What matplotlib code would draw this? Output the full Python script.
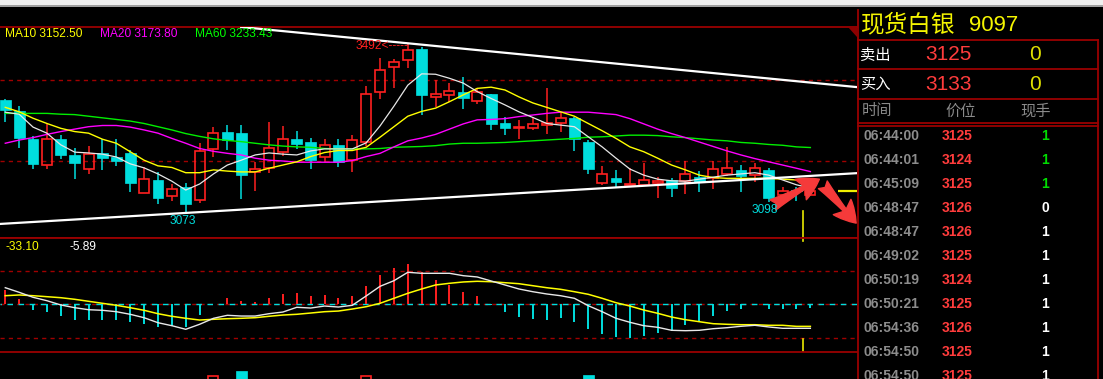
import matplotlib
matplotlib.use('Agg')
import matplotlib.pyplot as plt
from matplotlib.patches import Rectangle, Polygon
from matplotlib.lines import Line2D
import numpy as np

W, H, DPI = 1103, 379, 100

# ---------------- data ----------------
opens = [3351, 3324, 3255, 3190, 3255, 3215, 3180, 3220, 3210, 3220,
         3121, 3153, 3113, 3136, 3103, 3230, 3272, 3269, 3173, 3183,
         3222, 3255, 3247, 3210, 3240, 3202, 3247, 3371, 3433, 3450,
         3478, 3359, 3364, 3371, 3349, 3366, 3294, 3282, 3282, 3289,
         3294, 3307, 3247, 3145, 3158, 3141, 3141, 3145, 3153, 3150,
         3160, 3158, 3168, 3178, 3165, 3178, 3115, 3128, 3115]
highs = [3353, 3336, 3262, 3292, 3264, 3232, 3237, 3255, 3255, 3227,
         3185, 3173, 3143, 3145, 3245, 3284, 3289, 3289, 3198, 3297,
         3287, 3274, 3257, 3255, 3255, 3264, 3386, 3455, 3453, 3492,
         3482, 3401, 3393, 3408, 3381, 3366, 3309, 3302, 3309, 3381,
         3319, 3309, 3252, 3188, 3178, 3183, 3195, 3160, 3158, 3200,
         3175, 3200, 3235, 3190, 3195, 3182, 3136, 3135, 3123]
lows = [3297, 3232, 3180, 3180, 3205, 3155, 3168, 3178, 3188, 3123,
        3121, 3093, 3101, 3073, 3096, 3210, 3227, 3106, 3126, 3170,
        3212, 3230, 3180, 3198, 3185, 3173, 3237, 3354, 3381, 3430,
        3314, 3334, 3346, 3329, 3341, 3277, 3264, 3255, 3277, 3267,
        3272, 3225, 3168, 3141, 3136, 3141, 3138, 3108, 3111, 3118,
        3123, 3131, 3163, 3123, 3148, 3098, 3115, 3101, 3115]
closes = [3326, 3257, 3193, 3255, 3215, 3195, 3217, 3207, 3200, 3145,
          3155, 3108, 3131, 3093, 3225, 3269, 3252, 3165, 3180, 3232,
          3255, 3242, 3202, 3240, 3198, 3252, 3366, 3425, 3445, 3475,
          3364, 3366, 3373, 3356, 3371, 3292, 3282, 3284, 3292, 3294,
          3307, 3255, 3180, 3168, 3148, 3143, 3153, 3150, 3133, 3168,
          3148, 3180, 3183, 3163, 3183, 3109, 3126, 3125, 3125]

ma5 = [3321, 3316, 3284, 3269, 3240, 3222, 3220, 3217, 3210, 3193,
       3183, 3168, 3150, 3128, 3143, 3168, 3190, 3202, 3215, 3220,
       3217, 3215, 3225, 3230, 3230, 3230, 3245, 3287, 3336, 3388,
       3416, 3415, 3405, 3393, 3372, 3355, 3339, 3322, 3308, 3293,
       3289, 3285, 3260, 3235, 3207, 3180, 3165, 3155, 3151, 3150,
       3155, 3160, 3165, 3168, 3171, 3165, 3153, 3141, 3133]
ma10 = [3333, 3322, 3306, 3293, 3281, 3273, 3269, 3254, 3244, 3223,
        3202, 3188, 3184, 3171, 3171, 3178, 3175, 3173, 3173, 3182,
        3190, 3198, 3211, 3221, 3226, 3226, 3234, 3259, 3285, 3311,
        3323, 3331, 3347, 3364, 3380, 3383, 3376, 3359, 3344, 3333,
        3322, 3311, 3293, 3275, 3256, 3235, 3223, 3207, 3190, 3178,
        3165, 3159, 3157, 3157, 3157, 3157, 3155, 3153, 3152.5]
ma20 = [3244, 3252, 3258, 3266, 3273, 3279, 3285, 3288, 3288, 3284,
        3277, 3269, 3256, 3244, 3231, 3224, 3219, 3215, 3207, 3202,
        3200, 3197, 3197, 3197, 3197, 3201, 3211, 3219, 3235, 3250,
        3257, 3266, 3279, 3292, 3302, 3303, 3305, 3310, 3314, 3318,
        3321, 3321, 3321, 3318, 3315, 3305, 3292, 3279, 3268, 3258,
        3247, 3236, 3225, 3215, 3206, 3198, 3190, 3182, 3173.8]
ma60 = [3318, 3318, 3318, 3318, 3316, 3315, 3311, 3307, 3303, 3299,
        3293, 3285, 3277, 3268, 3261, 3255, 3251, 3248, 3244, 3240,
        3237, 3235, 3234, 3231, 3230, 3230, 3230, 3231, 3234, 3235,
        3236, 3238, 3242, 3244, 3244, 3245, 3246, 3248, 3250, 3252,
        3254, 3256, 3259, 3260, 3262, 3264, 3264, 3263, 3260, 3258,
        3255, 3252, 3250, 3246, 3244, 3241, 3239, 3235, 3233.4]

dif = [24.9, 18, 10.5, 5.4, -1, -5.1, -8.1, -9, -11.1, -15,
       -20.1, -27.6, -32.1, -37.5, -30, -21, -16.5, -17.6, -17.6, -14.1,
       -11.6, -4.5, -5.6, -2.6, -4.1, -1.5, 12.5, 27, 35.4, 48,
       46.5, 46.5, 46.5, 42.9, 41, 35, 29, 23, 18.9, 15.5,
       12.9, 9, -2.1, -11.1, -21, -27, -32.1, -34.5, -39, -39.6,
       -39, -36.6, -35.1, -33, -31.5, -34, -36, -36, -36]
dea = [12.9, 14, 12.9, 11.4, 9.9, 7.5, 4.5, 1.5, -1.5, -5.1,
       -9, -14.1, -18, -21, -23.6, -22.5, -21.6, -21, -20.1, -18,
       -16.1, -15, -13.1, -11.1, -10.1, -7.1, -3.6, 1.5, 9, 16.5,
       23, 29, 31.5, 33.5, 34.5, 33.9, 32.4, 30.9, 27.9, 24.9,
       22.5, 18.9, 15, 9, 2.4, -2.6, -8.6, -13.5, -19.1, -23.1,
       -26.1, -29.1, -30, -30.6, -30.6, -31.5, -31.5, -33.1, -33.1]
macd_hist = [21.5, 8, -8.5, -11, -17.5, -23.5, -23.5, -23.5, -23.5, -27,
             -29, -33.5, -32, -33.5, -16, 0, 10, 5.5, 3.5, 10,
             15.5, 17.5, 12.5, 14, 10, 12.5, 27.5, 44, 55, 60.5,
             49, 36.5, 29, 18.5, 12.5, -1, -11, -18.5, -21.5, -23,
             -20, -26, -36.5, -44, -48.5, -50, -47, -42.5, -39.5, -30.5,
             -25.5, -17, -9.5, -6.5, -1, -6.5, -6.5, -6.5, -5.9]

vol_idx = [15, 17, 26, 42]
vol_val = [1030, 1080, 1030, 1040]

trend_upper_x, trend_upper_y = [17.0, 61.4], [3532, 3383]
trend_lower_x, trend_lower_y = [-0.4, 61.4], [3044, 3170]
price_grid = [3200, 3400]
macd_grid = [50, -50]
last_price = 3125

ma_labels = ['MA10 3152.50', 'MA20 3173.80', 'MA60 3233.43']
macd_labels = ['-33.10', '-5.89']

title_name, title_code = '现货白银', '9097'
sell_row = ('卖出', '3125', '0')
buy_row = ('买入', '3133', '0')
headers = ['时间', '价位', '现手']
tick_times = ['06:44:00', '06:44:01', '06:45:09', '06:48:47', '06:48:47', '06:49:02',
              '06:50:19', '06:50:21', '06:54:36', '06:54:50', '06:54:50']
tick_prices = ['3125', '3124', '3125', '3126', '3126', '3125',
               '3124', '3125', '3126', '3125', '3125']
tick_vols = ['1', '1', '1', '0', '1', '1', '1', '1', '1', '1', '1']

# ---------------- colours ----------------
RED = '#ff2020'
CYAN = '#00dede'
BORDER = '#9a0000'
GRID = '#a00000'
SANS = ['Liberation Sans', 'DejaVu Sans']
CJK = ['Noto Sans CJK SC', 'DejaVu Sans']
LBL = 8.6

fig = plt.figure(figsize=(W / DPI, H / DPI), dpi=DPI, facecolor='black')


def frect(x0, y0, x1, y1):
    return [x0 / W, 1 - y1 / H, (x1 - x0) / W, (y1 - y0) / H]


def fx(x):
    return x / W


def fy(y):
    return 1 - y / H


XLIM = (-0.38, 61.36)

# ---------------- main price panel ----------------
ax = fig.add_axes(frect(0, 27, 857, 238))
ax.set_facecolor('black')
ax.set_xlim(*XLIM)
ax.set_ylim(3009.2, 3532.1)
ax.set_xticks([])
ax.set_yticks([])
for s in ['left', 'right']:
    ax.spines[s].set_visible(False)
for s in ['top', 'bottom']:
    ax.spines[s].set_color(BORDER)
    ax.spines[s].set_linewidth(1.3)

for gp in price_grid:
    ax.axhline(gp, color=GRID, lw=1.0, ls=(0, (3, 3)))

x = np.arange(len(opens))
for i, (o, h, l, c) in enumerate(zip(opens, highs, lows, closes)):
    if c >= o:
        top, bot = c, o
        ax.vlines(i, top, h, color=RED, lw=1.1, zorder=3)
        ax.vlines(i, l, bot, color=RED, lw=1.1, zorder=3)
        ax.add_patch(Rectangle((i - 0.36, bot), 0.72, max(top - bot, 0.6),
                               fill=False, ec=RED, lw=1.2, zorder=3))
    else:
        ax.vlines(i, l, h, color=CYAN, lw=1.1, zorder=3)
        ax.add_patch(Rectangle((i - 0.39, c), 0.78, o - c, fc=CYAN, ec=CYAN,
                               lw=0.5, zorder=3))

ax.plot(x, ma60, color='#00ee00', lw=1.0, zorder=4)
ax.plot(x, ma20, color='#ff00ff', lw=1.0, zorder=4)
ax.plot(x, ma10, color='#ffff00', lw=1.0, zorder=4)
ax.plot(x, ma5, color='#e8e8e8', lw=0.9, zorder=4)

ax.plot(trend_upper_x, trend_upper_y, color='white', lw=1.6, zorder=5)
ax.plot(trend_lower_x, trend_lower_y, color='white', lw=1.6, zorder=5)

ax.hlines(last_price, 60.0, XLIM[1], color='#f0f000', lw=1.6, zorder=5)
ax.axvline(57.47, ymin=0, ymax=0.128, color='#e8e800', lw=1.2)

# extreme labels
ax.annotate('3073', xy=(13, min(lows)), xytext=(-3, -9), textcoords='offset pixels',
            ha='center', va='center', color=CYAN, fontsize=LBL, family=SANS, zorder=7)
ax.annotate('3098', xy=(55, lows[55]), xytext=(-4, -8), textcoords='offset pixels',
            ha='center', va='center', color=CYAN, fontsize=LBL, family=SANS, zorder=7)
ax.annotate('3492<-----', xy=(29, max(highs)), xytext=(1, -3), textcoords='offset pixels',
            ha='right', va='center', color=RED, fontsize=LBL, family=SANS, zorder=7)

# arrows (annotation)
arrow_kw = dict(arrowstyle='fancy,head_length=1.1,head_width=1.2,tail_width=0.6',
                color='#f53a3a', mutation_scale=14, shrinkA=0, shrinkB=0)
ax.annotate('', xy=(58.65, 3155), xytext=(55.3, 3091), arrowprops=arrow_kw,
            annotation_clip=False, zorder=6)
ax.annotate('', xy=(61.3, 3046), xytext=(58.9, 3141), arrowprops=arrow_kw,
            annotation_clip=False, zorder=6)

# MA labels
for lbl, col, px in zip(ma_labels, ['#ffff00', '#ff00ff', '#00ff00'], [5, 100, 195]):
    fig.text(fx(px), fy(34), lbl, color=col, fontsize=LBL, family=SANS,
             ha='left', va='center')

# ---------------- MACD panel ----------------
ax2 = fig.add_axes(frect(0, 238, 857, 352))
ax2.set_facecolor('black')
ax2.set_xlim(*XLIM)
ax2.set_ylim(-71.55, 99.45)
ax2.set_xticks([])
ax2.set_yticks([])
for s in ['left', 'right']:
    ax2.spines[s].set_visible(False)
for s in ['top', 'bottom']:
    ax2.spines[s].set_color(BORDER)
    ax2.spines[s].set_linewidth(1.3)
for g in macd_grid:
    ax2.axhline(g, color=GRID, lw=1.0, ls=(0, (3, 3)))
ax2.axhline(0, color=GRID, lw=1.0, ls=(0, (3, 3)))
ax2.axhline(0, color=CYAN, lw=1.0, ls=(3, (4, 4)))
hist = np.array(macd_hist)
ax2.vlines(x, 0, hist, colors=[RED if v > 0 else CYAN for v in hist], lw=1.4, zorder=3)
ax2.plot(x, dea, color='#ffff00', lw=1.1, zorder=4)
ax2.plot(x, dif, color='#e8e8e8', lw=1.0, zorder=4)
ax2.axvline(57.47, ymin=0, ymax=0.114, color='#e8e800', lw=1.2)
ax2.axvline(57.47, ymin=0.97, ymax=1.0, color='#e8e800', lw=1.2)

fig.text(fx(5), fy(247), macd_labels[0], color='#ffff00', fontsize=LBL, family=SANS,
         ha='left', va='center')
fig.text(fx(69), fy(247), macd_labels[1], color='white', fontsize=LBL, family=SANS,
         ha='left', va='center')

# ---------------- volume panel (mostly cut off) ----------------
ax3 = fig.add_axes(frect(0, 352, 857, 479))
ax3.set_facecolor('black')
ax3.set_xlim(*XLIM)
ax3.set_ylim(0, 1270)
ax3.axis('off')
for vi, vv in zip(vol_idx, vol_val):
    if closes[vi] >= opens[vi]:
        ax3.add_patch(Rectangle((vi - 0.36, 0), 0.72, vv, fill=False, ec=RED, lw=1.2))
    else:
        ax3.add_patch(Rectangle((vi - 0.39, 0), 0.78, vv, fc=CYAN, ec=CYAN, lw=0.5))

# ---------------- window chrome ----------------
fig.add_artist(Rectangle((0, fy(5)), 1, 5 / H, transform=fig.transFigure,
                         fc='#f0f0f0', ec='none'))
fig.add_artist(Rectangle((0, fy(7)), 1, 2 / H, transform=fig.transFigure,
                         fc='#a0a0a0', ec='none'))
fig.add_artist(Polygon([(fx(848), fy(27)), (fx(857), fy(27)), (fx(857), fy(37))],
                       closed=True, transform=fig.transFigure, fc='#8b0000', ec='none'))


def fline(x0, y0, x1, y1, color=BORDER, lw=1.3):
    fig.add_artist(Line2D([fx(x0), fx(x1)], [fy(y0), fy(y1)], transform=fig.transFigure,
                          color=color, lw=lw))


# ---------------- right quote panel ----------------
fline(857.5, 10, 857.5, 379)
fline(1097.5, 40, 1097.5, 379)
for yy in [40, 68.7, 99, 123, 126.3]:
    fline(857.5, yy, 1097.5, yy)

fig.text(fx(861), fy(25), title_name, color='#f5f500', fontsize=17, family=CJK,
         ha='left', va='center')
fig.text(fx(969), fy(25.5), title_code, color='#f5f500', fontsize=16,
         family=SANS, ha='left', va='center')

for (lab, price, qty), yy in [(sell_row, 55), (buy_row, 84)]:
    fig.text(fx(860), fy(yy), lab, color='white', fontsize=11, family=CJK,
             ha='left', va='center')
    fig.text(fx(925), fy(yy), price, color='#ff3c3c', fontsize=15,
             family=SANS, ha='left', va='center')
    fig.text(fx(1029), fy(yy), qty, color='#e0e000', fontsize=15,
             family=SANS, ha='left', va='center')

for hdr, px in zip(headers, [862, 945, 1020]):
    fig.text(fx(px), fy(111), hdr, color='#8a8a8a', fontsize=11, family=CJK,
             ha='left', va='center')

for k, (t, p, q) in enumerate(zip(tick_times, tick_prices, tick_vols)):
    yy = 136 + 24 * k
    fig.text(fx(864), fy(yy), t, color='#8c8c8c', fontsize=10, fontweight='bold',
             family=SANS, ha='left', va='center')
    fig.text(fx(942), fy(yy), p, color='#ff3c3c', fontsize=10, fontweight='bold',
             family=SANS, ha='left', va='center')
    fig.text(fx(1041), fy(yy), q, color='#00dd00' if k < 3 else 'white', fontsize=10,
             fontweight='bold', family=SANS, ha='left', va='center')

fig.savefig('out.png', dpi=DPI, facecolor='black')
